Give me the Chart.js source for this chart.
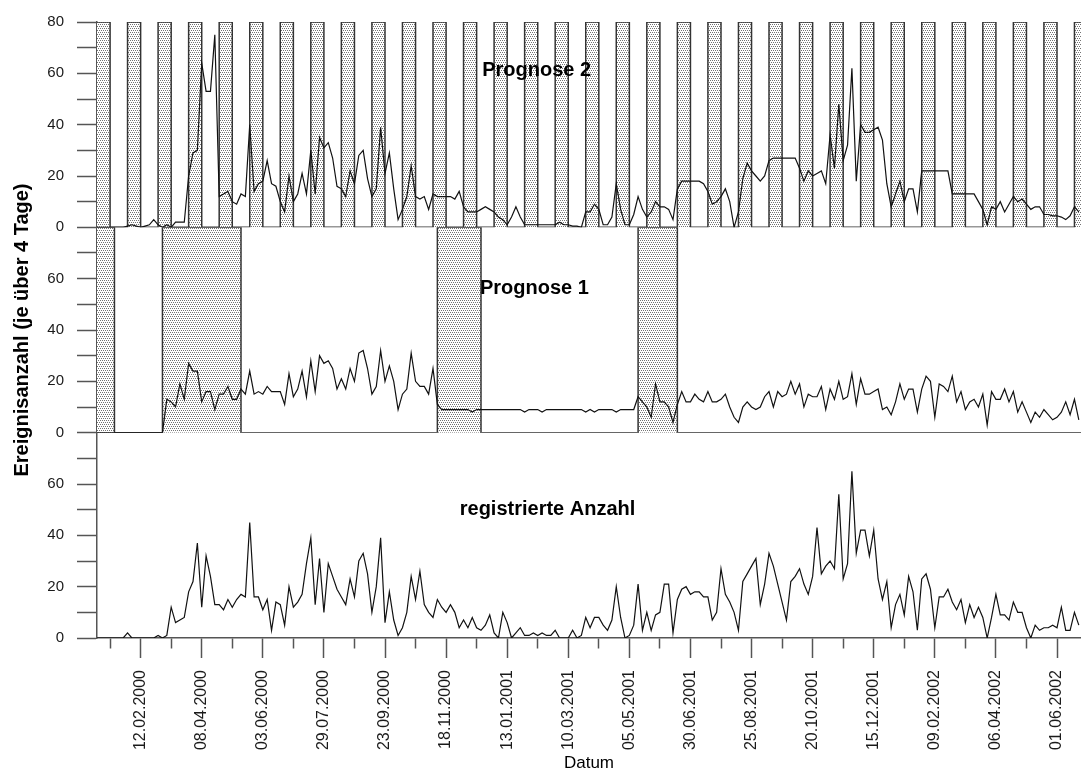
<!DOCTYPE html>
<html>
<head>
<meta charset="utf-8">
<script src="https://cdn.jsdelivr.net/npm/chart.js@4.4.1/dist/chart.umd.min.js"></script>
<style>
  html, body { margin: 0; padding: 0; background: #fff; }
</style>
</head>
<body>
<canvas id="chart" width="1081" height="774"></canvas>
<script>
// Tag 0 = 01.01.2000, Werte je über 4 Tage
const startDay = 2;
const stepDays = 4;

const registriert = [
  0, 0, 0, 0, 0, 0, 0, 2, 0, 0,
  0, 0, 0, 0, 1, 0, 1, 12, 6, 7,
  8, 18, 22, 37, 12, 32, 24, 13, 13, 11,
  15, 12, 15, 17, 16, 45, 16, 16, 11, 15,
  3, 14, 13, 5, 20, 12, 14, 17, 29, 39,
  13, 31, 10, 29, 24, 19, 16, 13, 23, 16,
  30, 33, 25, 10, 20, 39, 6, 18, 7, 1,
  4, 10, 24, 15, 26, 13, 10, 8, 15, 12,
  10, 13, 10, 4, 7, 4, 8, 4, 3, 5,
  9, 2, 0, 10, 6, 0, 2, 4, 1, 1,
  2, 1, 2, 1, 1, 3, 0, 0, 0, 3,
  0, 1, 8, 4, 8, 8, 5, 3, 7, 20,
  8, 0, 1, 5, 21, 3, 10, 3, 9, 10,
  21, 21, 2, 15, 19, 20, 17, 18, 18, 16,
  16, 7, 10, 27, 17, 14, 10, 3, 22, 25,
  28, 31, 13, 21, 33, 28, 21, 14, 7, 22,
  24, 27, 21, 17, 24, 43, 25, 28, 30, 27,
  56, 23, 29, 65, 33, 42, 42, 32, 42, 23,
  15, 22, 4, 13, 17, 9, 24, 18, 3, 23,
  25, 19, 4, 16, 16, 19, 14, 11, 15, 6,
  13, 8, 12, 8, 0, 8, 17, 9, 9, 7,
  14, 10, 10, 4, 0, 5, 3, 4, 4, 5,
  4, 12, 3, 3, 10, 5
];

const prognose1 = [
  0, 0, 0, 0, 0, 0, 0, 0, 0, 0, 0, 0, 0, 0, 0, 0,
  13, 12, 10, 19, 13, 27, 24, 24, 12, 16, 16, 9, 15, 15,
  18, 13, 13, 17, 15, 24, 15, 16, 15, 18,
  16, 16, 16, 11, 23, 14, 17, 24, 14, 28,
  16, 30, 27, 28, 25, 17, 21, 17, 25, 20,
  31, 32, 25, 15, 18, 32, 20, 26, 20, 9,
  15, 17, 31, 20, 18, 18, 15, 25, 11, 9,
  9, 9, 9, 9, 9, 9, 8, 9, 9, 9,
  9, 9, 9, 9, 9, 9, 9, 9, 8, 9,
  9, 9, 8, 9, 9, 9, 9, 9, 9, 9,
  9, 9, 8, 9, 8, 9, 9, 9, 9, 8,
  9, 9, 9, 9, 14, 12, 10, 6, 19, 12,
  12, 10, 4, 11, 16, 12, 12, 15, 13, 12,
  16, 12, 12, 13, 15, 10, 6, 4, 10, 12,
  10, 9, 10, 14, 16, 10, 16, 14, 15, 20,
  15, 19, 10, 15, 14, 14, 18, 9, 17, 13,
  20, 13, 14, 23, 11, 21, 15, 15, 16, 17,
  9, 10, 7, 12, 19, 13, 17, 17, 8, 17,
  22, 20, 6, 19, 18, 16, 22, 12, 16, 9,
  12, 13, 10, 15, 3, 16, 13, 13, 17, 12,
  16, 8, 12, 8, 4, 8, 6, 9, 7, 5,
  6, 8, 12, 7, 13, 5
];

const prognose2 = [
  0, 0, 0, 0, 0, 0, 0, 0.5, 1, 0.5,
  0, 0.5, 1, 3, 1, 0, 1, 0, 2, 2,
  2, 20, 29, 30, 64, 53, 53, 75, 12, 13,
  14, 10, 9, 13, 12, 40, 14, 17, 18, 26,
  17, 16, 10, 6, 20, 10, 13, 21, 13, 30,
  13, 35, 31, 33, 27, 16, 15, 12, 22, 17,
  28, 30, 19, 12, 15, 39, 21, 29, 15, 3,
  7, 12, 24, 12, 11, 12, 7, 13, 12, 12,
  12, 12, 11, 14, 8, 6, 6, 6, 7, 8,
  7, 6, 4, 3, 1, 4, 8, 4, 1, 1,
  1, 1, 1, 1, 1, 1, 2, 1, 1, 0.5,
  0.5, 0, 6, 6, 9, 7, 1, 1, 4, 17,
  7, 1, 1, 5, 12, 7, 4, 6, 10, 8,
  8, 7, 3, 15, 18, 18, 18, 18, 18, 17,
  14, 9, 10, 12, 15, 10, 0, 6, 19, 25,
  22, 20, 18, 20, 26, 27, 27, 27, 27, 27,
  27, 23, 18, 22, 20, 21, 22, 17, 36, 23,
  48, 26, 32, 62, 18, 40, 37, 37, 38, 39,
  34, 17, 8, 13, 18, 10, 15, 15, 6, 22,
  22, 22, 22, 22, 22, 22, 13, 13, 13, 13,
  13, 13, 10, 7, 1, 8, 7, 10, 6, 9,
  12, 10, 11, 9, 7, 8, 8, 5, 5, 4.5,
  4.5, 4, 3, 4.5, 8, 6
];

// gepunktete Phasen (von Tag, bis Tag)
const phasenPrognose2 = [
  [2, 14], [30, 42], [58, 70], [86, 98], [114, 126], [142, 154], [170, 182],
  [198, 210], [226, 238], [254, 266], [282, 294], [310, 322], [338, 350],
  [366, 378], [394, 406], [422, 434], [450, 462], [478, 490], [506, 518],
  [534, 546], [562, 574], [590, 602], [618, 630], [646, 658], [674, 686],
  [702, 714], [730, 742], [758, 770], [786, 798], [814, 826], [842, 854],
  [870, 882], [898, 910]
];
const phasenPrognose1 = [[2, 18], [62, 134], [314, 354], [498, 534]];

const labeledDates = [
  '12.02.2000', '08.04.2000', '03.06.2000', '29.07.2000', '23.09.2000',
  '18.11.2000', '13.01.2001', '10.03.2001', '05.05.2001', '30.06.2001',
  '25.08.2001', '20.10.2001', '15.12.2001', '09.02.2002', '06.04.2002',
  '01.06.2002'
];
const yTickValues = [0, 10, 20, 30, 40, 50, 60, 70, 80];

const dayZero = Date.UTC(2000, 0, 1);
function toDay(s) {
  const [d, m, y] = s.split('.').map(Number);
  return Math.round((Date.UTC(y, m - 1, d) - dayZero) / 86400000);
}
function fmtDay(day) {
  const dt = new Date(dayZero + day * 86400000);
  const p = n => String(n).padStart(2, '0');
  return p(dt.getUTCDate()) + '.' + p(dt.getUTCMonth() + 1) + '.' + dt.getUTCFullYear();
}

const majorDays = labeledDates.map(toDay);
const tickDays = majorDays.flatMap(d => [d - 28, d]);
const xMin = 2, xMax = 904;

const series = vals => vals.map((v, i) => ({ x: startDay + stepDays * i, y: v }));
function wave(phasen) {
  const pts = [];
  phasen.forEach(([a, b]) => { pts.push({ x: a, y: 80 }, { x: b, y: 0 }); });
  pts.push({ x: xMax + 10, y: 0 });
  return pts;
}

function dotPattern() {
  const c = document.createElement('canvas');
  c.width = 4; c.height = 4;
  const g = c.getContext('2d');
  g.fillStyle = '#fff';
  g.fillRect(0, 0, 4, 4);
  g.fillStyle = '#737373';
  [[0, 0], [2, 0], [1, 2], [3, 2]].forEach(([x, y]) => g.fillRect(x, y, 1, 1));
  return g.createPattern(c, 'repeat');
}
const dots = dotPattern();

Chart.defaults.font.family = '"Liberation Sans", Arial, sans-serif';

function yAxis(weight, withTop, title) {
  return {
    type: 'linear',
    position: 'left',
    stack: 'panels',
    stackWeight: 1,
    weight,
    min: 0,
    max: 80,
    afterBuildTicks: s => { s.ticks = yTickValues.filter(v => withTop || v < 80).map(v => ({ value: v })); },
    afterFit: s => { s.width = 97; },
    ticks: {
      autoSkip: false,
      padding: 13,
      color: '#1a1a1a',
      font: { size: 15 },
      callback: v => (v % 20 === 0 ? String(v) : '')
    },
    grid: { drawOnChartArea: false, drawTicks: true, tickLength: 20, tickColor: '#555', tickWidth: 1.5 },
    border: { display: true, color: '#555', width: 1.5 },
    title: title
      ? { display: true, text: title, color: '#000', font: { size: 20, weight: 'bold' }, padding: { top: 10, bottom: 0 } }
      : { display: false }
  };
}

const panelTitles = {
  id: 'panelTitles',
  afterDatasetsDraw(chart, args, opts) {
    const { ctx, scales } = chart;
    ctx.save();
    ctx.font = 'bold 20px "Liberation Sans", Arial, sans-serif';
    ctx.fillStyle = '#000';
    ctx.textAlign = 'center';
    ctx.textBaseline = 'alphabetic';
    opts.items.forEach(t => {
      ctx.fillText(t.text, scales.x.getPixelForValue(t.day), scales[t.axis].getPixelForValue(t.value));
    });
    ctx.restore();
  }
};

const lineStyle = { borderColor: '#111', borderWidth: 1.2, pointRadius: 0, tension: 0, fill: false, order: 0 };
const waveStyle = { stepped: true, fill: 'origin', backgroundColor: dots, borderColor: '#333', borderWidth: 1.5, pointRadius: 0, order: 1 };

new Chart(document.getElementById('chart'), {
  type: 'line',
  data: {
    datasets: [
      { label: 'registrierte Anzahl', data: series(registriert), yAxisID: 'yBot', ...lineStyle },
      { label: 'Prognose 1', data: series(prognose1), yAxisID: 'yMid', ...lineStyle },
      { label: 'Prognose 2', data: series(prognose2), yAxisID: 'yTop', ...lineStyle },
      { label: 'Phasen Prognose 1', data: wave(phasenPrognose1), yAxisID: 'yMid', ...waveStyle },
      { label: 'Phasen Prognose 2', data: wave(phasenPrognose2), yAxisID: 'yTop', ...waveStyle }
    ]
  },
  options: {
    responsive: false,
    animation: false,
    devicePixelRatio: 1,
    layout: { padding: { top: 18, left: 0, right: 0, bottom: 0 } },
    plugins: {
      legend: { display: false },
      tooltip: { enabled: false },
      panelTitles: {
        items: [
          { text: 'Prognose 2', axis: 'yTop', day: 405, value: 59 },
          { text: 'Prognose 1', axis: 'yMid', day: 403, value: 54 },
          { text: 'registrierte Anzahl', axis: 'yBot', day: 415, value: 48 }
        ]
      }
    },
    scales: {
      x: {
        type: 'linear',
        min: xMin,
        max: xMax,
        afterBuildTicks: s => { s.ticks = tickDays.map(v => ({ value: v })); },
        afterFit: s => { s.height = 136; s.paddingLeft = 0; s.paddingRight = 0; },
        ticks: {
          autoSkip: false,
          minRotation: 90,
          maxRotation: 90,
          padding: 12,
          color: '#1a1a1a',
          font: { size: 16 },
          callback: v => (majorDays.includes(v) ? fmtDay(v) : '')
        },
        grid: {
          drawOnChartArea: false,
          tickLength: 20,
          tickColor: '#555',
          tickWidth: 1.5,
          tickBorderDash: c => (c.tick && majorDays.includes(c.tick.value) ? [] : [10, 40])
        },
        border: { color: '#555', width: 1.5 },
        title: { display: true, text: 'Datum', color: '#000', font: { size: 17 }, padding: 0 }
      },
      yTop: yAxis(3, true),
      yMid: yAxis(2, false, 'Ereignisanzahl (je über 4 Tage)'),
      yBot: yAxis(1, false)
    }
  },
  plugins: [panelTitles]
});
</script>
</body>
</html>
